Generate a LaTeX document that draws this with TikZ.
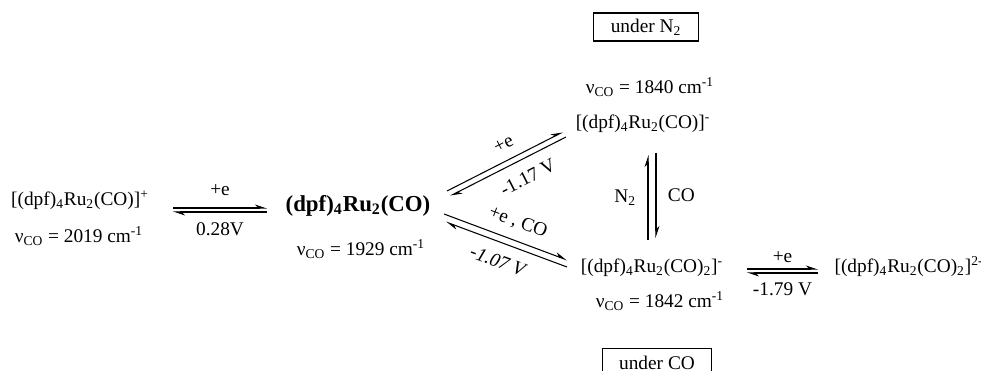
\documentclass[tikz,border=0pt]{standalone}
\usepackage{fontspec}
\setmainfont{Liberation Serif}
\usetikzlibrary{arrows.meta,calc,positioning}

\newcommand{\nuco}[1]{ν\textsubscript{CO} = #1 cm\textsuperscript{-1}}
\newcommand{\ruco}{(dpf)\textsubscript{4}Ru\textsubscript{2}(CO)}

\begin{document}
\begin{tikzpicture}[x=0.02cm,y=-0.02cm,
  every node/.style={font=\fontsize{11}{13}\selectfont,inner sep=1pt},
  harp/.style={line width=0.6pt,-{Stealth[left,length=6pt,width=4pt]}},
  harpb/.style={line width=0.6pt,{Stealth[left,length=6pt,width=4pt]}-},
  lbl/.style={font=\fontsize{11}{13}\selectfont,inner sep=1.5pt},
  cond/.style={draw,line width=0.7pt,minimum width=105*0.02cm,minimum height=28*0.02cm,inner sep=2pt}]
  \useasboundingbox (0,0) rectangle (981,371);

  % species
  \node (cat)  at (80,200)  {[\ruco]\textsuperscript{+}};
  \node (catnu) at (79,236) {\nuco{2019}};
  \node[font=\fontsize{13}{15}\bfseries] (neu) at (358,206) {\ruco};
  \node (neunu) at (361,249) {\nuco{1929}};
  \node (ani) at (643,124) {[\ruco]\textsuperscript{-}};
  \node (aninu) at (650,87) {\nuco{1840}};
  \node (dico) at (652,268) {[\ruco\textsubscript{2}]\textsuperscript{-}};
  \node (diconu) at (660,301) {\nuco{1842}};
  \node (dian) at (909,267) {[\ruco\textsubscript{2}]\textsuperscript{2-}};

  % conditions
  \node[cond] (undn) at (646,27) {under N\textsubscript{2}};
  \node[cond,minimum width=109*0.02cm,anchor=north] (undco) at (657,348) {under CO};

  % arrow ends
  \coordinate (a1) at (173,208); \coordinate (a2) at (267,208);
  \coordinate (b1) at (173,212); \coordinate (b2) at (267,212);
  \coordinate (c1) at (447,191); \coordinate (c2) at (563,132);
  \coordinate (d1) at (450,196); \coordinate (d2) at (566,137);
  \coordinate (e1) at (444,214); \coordinate (e2) at (567,260);
  \coordinate (f1) at (446,222); \coordinate (f2) at (567,267);
  \coordinate (g1) at (648,240); \coordinate (g2) at (648,155);
  \coordinate (h1) at (656,153); \coordinate (h2) at (656,238);
  \coordinate (k1) at (747,269); \coordinate (k2) at (818,269);
  \coordinate (l1) at (747,273); \coordinate (l2) at (818,273);

  \draw[harp] (a1) -- node[lbl,above=5pt] {+e} (a2);
  \draw[harpb] (b1) -- node[lbl,below=4pt] {0.28V} (b2);
  \draw[harp] (c1) -- node[lbl,above=4pt,sloped,pos=0.55] {+e} (c2);
  \draw[harpb] (d1) -- node[lbl,below=5pt,sloped,pos=0.6] {-1.17 V} (d2);
  \draw[harp] (e1) -- node[lbl,above=4pt,sloped,pos=0.55] {+e , CO} (e2);
  \draw[harpb] (f1) -- node[lbl,below=5pt,sloped,pos=0.48,font=\fontsize{11}{13}\itshape] {-1.07 V} (f2);
  \draw[harp] (g1) -- node[lbl,left=5pt] {N\textsubscript{2}} (g2);
  \draw[harp] (h1) -- node[lbl,right=5pt] {CO} (h2);
  \draw[harp] (k1) -- node[lbl,above=2pt] {+e} (k2);
  \draw[harpb] (l1) -- node[lbl,below=4pt] {-1.79 V} (l2);
\end{tikzpicture}
\end{document}
